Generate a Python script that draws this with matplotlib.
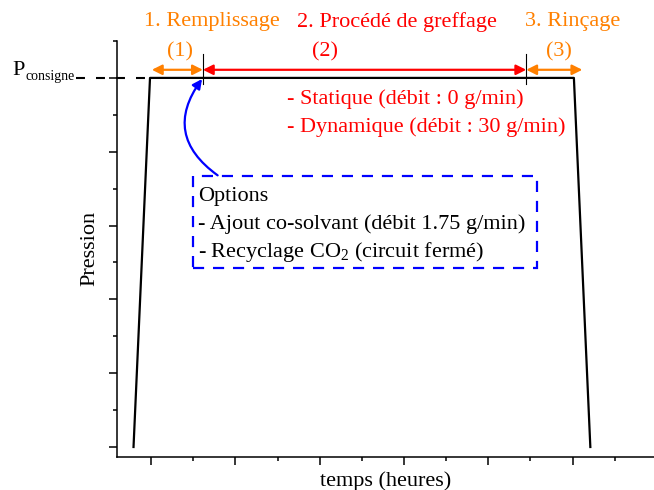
import matplotlib.pyplot as plt
from matplotlib.patches import Rectangle, FancyArrowPatch

plt.rcParams['font.family'] = ['Liberation Serif', 'DejaVu Serif']
plt.rcParams['mathtext.fontset'] = 'custom'
plt.rcParams['mathtext.rm'] = 'Liberation Serif'
plt.rcParams['mathtext.it'] = 'Liberation Serif:italic'

# Données du cycle de pression (unités arbitraires)
temps = [0.585, 0.976, 11.03, 11.42]
pression = [0, 10, 10, 0]
p_consigne = 10

# Étapes du procédé
etapes = ["1. Remplissage", "2. Procédé de greffage", "3. Rinçage"]
etapes_x = [2.45, 6.83, 11.0]
etapes_num = ["(1)", "(2)", "(3)"]
num_x = [1.69, 5.13, 10.68]
bornes = [1.02, 2.23, 9.90, 11.23]
couleurs = ["#FF8000", "#FF0000", "#FF8000"]

modes = ["- Statique (débit : 0 g/min)", "- Dynamique (débit : 30 g/min)"]
options = ["Options", "- Ajout co-solvant (débit 1.75 g/min)",
           "- Recyclage CO$_2$ (circuit fermé)"]

fs = 16

fig = plt.figure(figsize=(6.54, 4.90), dpi=100)
ax = fig.add_axes([116.7/654, (490-456.7)/490, (654-116.7)/654, (456.7-41)/490])

ax.plot(temps, pression, color='black', lw=1.6)
ax.plot([-0.78, temps[1]], [p_consigne, p_consigne], color='black', lw=1.5,
        ls=(0, (4.3, 5.3)), clip_on=False)

ax.set_xlim(0.186, 12.93)
ax.set_ylim(-0.263, 11.0)
ax.set_xticks(range(1, 13, 2))
ax.set_xticks(range(2, 13, 2), minor=True)
ax.set_yticks(range(0, 11, 2))
ax.set_yticks(range(1, 12, 2), minor=True)
ax.tick_params(which='both', direction='out', labelbottom=False, labelleft=False,
               width=1.1, color='black')
ax.tick_params(which='major', length=5.8)
ax.tick_params(which='minor', length=3.2)
for s in ['top', 'right']:
    ax.spines[s].set_visible(False)
for s in ['left', 'bottom']:
    ax.spines[s].set_linewidth(1.1)

ax.set_xlabel("temps (heures)", fontsize=fs, labelpad=5)
ax.set_ylabel("Pression", fontsize=fs, labelpad=7)

# P consigne
fig.text(12/654, 1 - 75/490, "P", fontsize=fs, ha='left', va='baseline')
fig.text(26/654, 1 - 80/490, "consigne", fontsize=10, ha='left', va='baseline')

# Flèches des étapes
y_fleche = 10.22
for i in range(3):
    ax.annotate("", xy=(bornes[i+1], y_fleche), xytext=(bornes[i], y_fleche),
                arrowprops=dict(arrowstyle='<|-|>', color=couleurs[i], lw=1.6,
                                mutation_scale=15, shrinkA=0, shrinkB=0),
                annotation_clip=False)
    ax.text(num_x[i], 10.7, etapes_num[i], color=couleurs[i], fontsize=fs,
            ha='center', va='center')
    ax.text(etapes_x[i], 11.52, etapes[i], color=couleurs[i], fontsize=fs,
            ha='center', va='center', clip_on=False)
for b in bornes[1:3]:
    ax.plot([b, b], [9.83, 10.65], color='black', lw=0.8, clip_on=False)

for i, m in enumerate(modes):
    ax.text(4.22, 9.42 - 0.76*i, m, color='red', fontsize=fs, ha='left', va='center')

# Cadre des options
ax.add_patch(Rectangle((1.996, 4.85), 10.16 - 1.996, 7.34 - 4.85, fill=False,
                       edgecolor='blue', lw=1.6, ls=(0, (5, 4))))
for i, o in enumerate(options):
    ax.text(2.12, 6.80 - 0.76*i, o, color='black', fontsize=fs, ha='left', va='center')

ax.add_patch(FancyArrowPatch((2.58, 7.36), (2.21, 9.97), connectionstyle='arc3,rad=-0.5',
                             arrowstyle='-|>', mutation_scale=14, color='blue', lw=1.6,
                             shrinkA=0, shrinkB=0))

fig.savefig("out.png", dpi=100)
